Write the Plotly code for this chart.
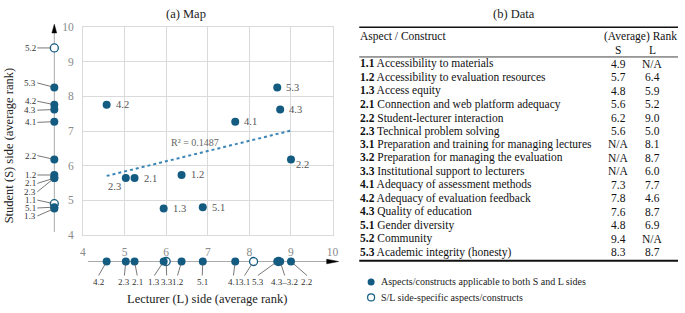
import numpy as np
import plotly.graph_objects as go

# ---------------- data ----------------
CODES = ["1.1", "1.2", "1.3", "2.1", "2.2", "2.3", "3.1", "3.2", "3.3",
         "4.1", "4.2", "4.3", "5.1", "5.2", "5.3"]
NAMES = ["Accessibility to materials",
         "Accessibility to evaluation resources",
         "Access equity",
         "Connection and web platform adequacy",
         "Student-lecturer interaction",
         "Technical problem solving",
         "Preparation and training for managing lectures",
         "Preparation for managing the evaluation",
         "Institutional support to lecturers",
         "Adequacy of assessment methods",
         "Adequacy of evaluation feedback",
         "Quality of education",
         "Gender diversity",
         "Community",
         "Academic integrity (honesty)"]
S_RANK = [4.9, 5.73, 4.76, 5.64, 6.18, 5.64, None, None, None,
          7.27, 7.76, 7.62, 4.8, 9.4, 8.26]
L_RANK = [None, 6.37, 5.94, 5.24, 9.0, 5.03, 8.1, 8.7, 6.0,
          7.66, 4.57, 8.74, 6.88, None, 8.67]
AXIS_TICKS = [4, 5, 6, 7, 8, 9, 10]
R2_LABEL = "R² = 0.1487"
LEGEND_BOTH = "Aspects/constructs applicable to both S and L sides"
LEGEND_SPEC = "S/L side-specific aspects/constructs"

# ---------------- layout helpers ----------------
W, H = 685, 313
FONT = "Liberation Serif, Times New Roman, serif"
BLUE = "#145b82"
TREND = "#3b86b6"
GRID = "#dadada"


def P(x):
    return x / W


def Q(y):
    return 1 - y / H


def fmt(v):
    return "N/A" if v is None else f"{v:.1f}"


def txt(x, y, text, font, xanchor="center", yanchor="middle", angle=0):
    return dict(x=P(x), y=Q(y), xref="paper", yref="paper", text=text,
                showarrow=False, xanchor=xanchor, yanchor=yanchor,
                textangle=angle, borderpad=0, font=font)


n = len(CODES)
both = [i for i in range(n) if S_RANK[i] is not None and L_RANK[i] is not None]
s_only = [i for i in range(n) if S_RANK[i] is not None and L_RANK[i] is None]
l_only = [i for i in range(n) if L_RANK[i] is not None and S_RANK[i] is None]

Lb = np.array([L_RANK[i] for i in both])
Sb = np.array([S_RANK[i] for i in both])
slope, icpt = np.polyfit(Lb, Sb, 1)
tx = np.array([Lb.min(), Lb.max()])
ty = slope * tx + icpt

RUG_X = 52      # pixel position of the left rug axis
RUG_Y = 265.7   # pixel position of the bottom rug axis

fig = go.Figure()

# trend line
fig.add_trace(go.Scatter(x=tx, y=ty, mode="lines", xaxis="x", yaxis="y",
                         line=dict(color=TREND, width=2, dash="dot"),
                         hoverinfo="skip"))
# main scatter
fig.add_trace(go.Scatter(x=Lb, y=Sb, mode="markers", xaxis="x", yaxis="y",
                         marker=dict(size=8, color=BLUE), cliponaxis=False))

open_marker = dict(size=8, color="white", line=dict(color=BLUE, width=1.3))
fill_marker = dict(size=8, color=BLUE)

# left rug (student side)
fig.add_trace(go.Scatter(x=[RUG_X] * len(s_only), y=[S_RANK[i] for i in s_only],
                         xaxis="x2", yaxis="y2", mode="markers",
                         marker=open_marker, cliponaxis=False))
fig.add_trace(go.Scatter(x=[RUG_X] * len(both), y=list(Sb),
                         xaxis="x2", yaxis="y2", mode="markers",
                         marker=fill_marker, cliponaxis=False))
# bottom rug (lecturer side)
fig.add_trace(go.Scatter(x=[L_RANK[i] for i in l_only], y=[RUG_Y] * len(l_only),
                         xaxis="x3", yaxis="y3", mode="markers",
                         marker=open_marker, cliponaxis=False))
fig.add_trace(go.Scatter(x=list(Lb), y=[RUG_Y] * len(both),
                         xaxis="x3", yaxis="y3", mode="markers",
                         marker=fill_marker, cliponaxis=False))
# legend swatches
fig.add_trace(go.Scatter(x=[373], y=[287], xaxis="x2", yaxis="y3", mode="markers",
                         marker=dict(size=7, color=BLUE), cliponaxis=False))
fig.add_trace(go.Scatter(x=[373], y=[303], xaxis="x2", yaxis="y3", mode="markers",
                         marker=dict(size=7, color="white", line=dict(color=BLUE, width=1.2)),
                         cliponaxis=False))

ann = []
shapes = []

# point labels in main plot
LABEL_POS = {"2.2": ("left", "top", 4, 1), "2.3": ("right", "top", -4, -2)}
for i in both:
    xa, ya, xs, ys = LABEL_POS.get(CODES[i], ("left", "middle", 8, 0))
    ann.append(dict(x=L_RANK[i], y=S_RANK[i], xref="x", yref="y", text=CODES[i],
                    showarrow=False, xanchor=xa, yanchor=ya, xshift=xs, yshift=ys,
                    borderpad=0, font=dict(family=FONT, size=10.5, color="#555")))

ann.append(txt(195, 142, R2_LABEL, dict(family=FONT, size=10, color="#666")))

RUGF = dict(family=FONT, size=9, color="#333")
# left rug labels with leader lines (pixel offsets of label from point)
LEFT_DY = {"5.2": 0, "5.3": -4.5, "4.2": -3.5, "4.3": 0.6, "4.1": 0.7,
           "2.2": -3.8, "1.2": 0, "2.1": 5.3, "2.3": 13.7,
           "1.1": -3.6, "5.1": 0.8, "1.3": 7.4}
for i in range(n):
    if S_RANK[i] is None:
        continue
    ann.append(dict(x=RUG_X, y=S_RANK[i], xref="x2", yref="y2", text=CODES[i],
                    showarrow=True, arrowhead=0, arrowwidth=0.8, arrowcolor="#555",
                    ax=-17, ay=LEFT_DY.get(CODES[i], 0), standoff=3, borderpad=0,
                    xanchor="right", yanchor="middle", font=RUGF))

# bottom rug labels with leader lines
BOTTOM_DX = {"4.2": -8, "2.3": -1.4, "2.1": 2.7, "1.3": -9.3, "3.3": 0.5,
             "1.2": -4, "5.1": -0.5, "4.1": -1.8, "3.1": -9, "5.3": -19.5,
             "4.3": 4.5, "2.2": 16}
BOTTOM_TEXT = {"4.3": "4.3–3.2", "3.2": None}
for i in range(n):
    if L_RANK[i] is None:
        continue
    t = BOTTOM_TEXT.get(CODES[i], CODES[i])
    if t is None:
        continue
    ann.append(dict(x=L_RANK[i], y=RUG_Y, xref="x3", yref="y3", text=t,
                    showarrow=True, arrowhead=0, arrowwidth=0.8, arrowcolor="#555",
                    ax=BOTTOM_DX.get(CODES[i], 0), ay=14, standoff=3, borderpad=0,
                    xanchor="center", yanchor="top", font=RUGF))

# rug axes lines + arrow heads
shapes.append(dict(type="line", xref="paper", yref="paper", x0=P(RUG_X), x1=P(RUG_X),
                   y0=Q(235), y1=Q(26), line=dict(color="#aaaaaa", width=1), layer="below"))
shapes.append(dict(type="path", xref="paper", yref="paper",
                   path=f"M {P(RUG_X-2.4)},{Q(28)} L {P(RUG_X)},{Q(19)} L {P(RUG_X+2.4)},{Q(28)} Z",
                   fillcolor="black", line=dict(color="black", width=0.5), layer="above"))
shapes.append(dict(type="line", xref="paper", yref="paper", x0=P(86), x1=P(330),
                   y0=Q(RUG_Y), y1=Q(RUG_Y), line=dict(color="#aaaaaa", width=1), layer="below"))
shapes.append(dict(type="path", xref="paper", yref="paper",
                   path=f"M {P(328)},{Q(RUG_Y-2.4)} L {P(340)},{Q(RUG_Y)} L {P(328)},{Q(RUG_Y+2.4)} Z",
                   fillcolor="black", line=dict(color="black", width=0.5), layer="above"))

# titles
TITF = dict(family=FONT, size=12.5, color="#222")
ann.append(txt(185, 8, "(a) Map", TITF))
ann.append(txt(518, 8, "(b) Data", TITF))
ann.append(txt(207, 305, "Lecturer (L) side (average rank)", TITF))
ann.append(txt(7, 145, "Student (S) side (average rank)", TITF, angle=-90))

# ---------------- table ----------------
TF = dict(family=FONT, size=11.5, color="#111")
TX0, TX1 = 361, 684
S_COL, L_COL = 623.5, 658
shapes.append(dict(type="line", xref="paper", yref="paper", x0=P(TX0), x1=P(TX1),
                   y0=Q(22), y1=Q(22), line=dict(color="#111", width=1.5)))
shapes.append(dict(type="line", xref="paper", yref="paper", x0=P(TX0), x1=P(TX1),
                   y0=Q(53), y1=Q(53), line=dict(color="#111", width=0.8)))
shapes.append(dict(type="line", xref="paper", yref="paper", x0=P(TX0), x1=P(TX1),
                   y0=Q(265), y1=Q(265), line=dict(color="#111", width=2)))
ann.append(txt(TX0, 32, "Aspect / Construct", TF, xanchor="left"))
ann.append(txt(TX1, 32, "(Average) Rank", TF, xanchor="right"))
ann.append(txt(S_COL, 46, "S", TF))
ann.append(txt(L_COL, 46, "L", TF))
for i in range(n):
    ry = 60 + 14 * i
    ann.append(txt(TX0, ry, f"<b>{CODES[i]}</b> {NAMES[i]}", TF, xanchor="left"))
    ann.append(txt(S_COL, ry, fmt(S_RANK[i]), TF))
    ann.append(txt(L_COL, ry, fmt(L_RANK[i]), TF))

# legend texts
LF = dict(family=FONT, size=10, color="#222")
ann.append(txt(382, 287, LEGEND_BOTH, LF, xanchor="left"))
ann.append(txt(382, 303, LEGEND_SPEC, LF, xanchor="left"))

tickfont = dict(family=FONT, size=11.5, color="#8a8a8a")
main_x_dom = [P(81), P(334)]
main_y_dom = [Q(238), Q(22)]
fig.update_layout(
    width=W, height=H, margin=dict(l=0, r=0, t=0, b=0),
    paper_bgcolor="white", plot_bgcolor="rgba(0,0,0,0)", showlegend=False,
    xaxis=dict(domain=main_x_dom, range=[4, 10], anchor="y", tickvals=AXIS_TICKS,
               showgrid=True, gridcolor=GRID, gridwidth=1, zeroline=False,
               showline=True, mirror=True, linecolor=GRID, linewidth=1,
               ticks="", tickfont=tickfont, ticklabelstandoff=6, fixedrange=True),
    yaxis=dict(domain=main_y_dom, range=[4, 10], anchor="x", tickvals=AXIS_TICKS,
               showgrid=True, gridcolor=GRID, gridwidth=1, zeroline=False,
               showline=True, mirror=True, linecolor=GRID, linewidth=1,
               ticks="", tickfont=tickfont, ticklabelstandoff=6, fixedrange=True),
    xaxis2=dict(domain=[0, 1], range=[0, W], anchor="y2", visible=False, fixedrange=True),
    yaxis2=dict(domain=main_y_dom, range=[4, 10], anchor="x2", visible=False, fixedrange=True),
    xaxis3=dict(domain=main_x_dom, range=[4, 10], anchor="y3", visible=False, fixedrange=True),
    yaxis3=dict(domain=[0, 1], range=[H, 0], anchor="x3", visible=False, fixedrange=True),
    annotations=ann, shapes=shapes,
)

fig.write_html("out.html", config={"displayModeBar": False},
               post_script="document.body.style.margin='0';document.body.style.overflow='hidden';")
